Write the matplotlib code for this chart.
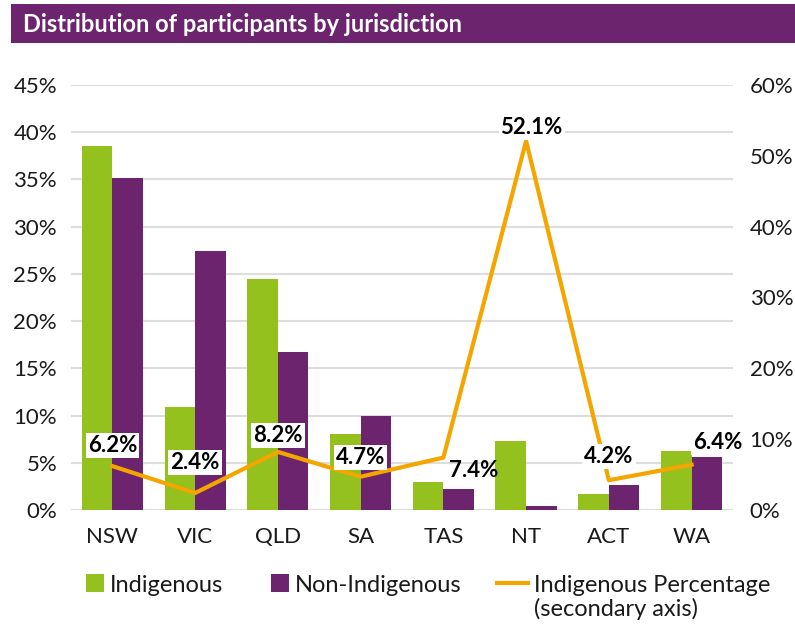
import numpy as np
import matplotlib
matplotlib.use("Agg")
import matplotlib.pyplot as plt
import matplotlib.patches as mpatches
from matplotlib.legend_handler import HandlerPatch

plt.rcParams['font.family'] = ['Lato', 'DejaVu Sans']

# ----------------------------------------------------------------------
# DATA
# ----------------------------------------------------------------------
jurisdictions = ["NSW", "VIC", "QLD", "SA", "TAS", "NT", "ACT", "WA"]
indigenous = [38.5, 10.9, 24.5, 8.0, 3.0, 7.3, 1.7, 6.3]
non_indigenous = [35.2, 27.4, 16.7, 9.9, 2.2, 0.4, 2.6, 5.6]
indigenous_pct = [6.2, 2.4, 8.2, 4.7, 7.4, 52.1, 4.2, 6.4]

# label offsets (points) for the line labels, and whether a white box sits behind
label_offsets = [(0, 15), (0, 22), (0, 12), (0, 14), (22, -9), (4, 10), (0, 17), (19, 16)]
label_boxed = [True, True, True, True, False, True, True, True]

GREEN = "#95C11F"
PURPLE = "#6B246D"
ORANGE = "#F5A500"
GRID = "#DDDDDD"

fig = plt.figure(figsize=(7.95, 6.25), dpi=100)

# title bar
fig.patches.append(mpatches.Rectangle((0.014, 0.931), 0.986, 0.063, transform=fig.transFigure,
                                      facecolor=PURPLE, edgecolor="none"))
fig.text(0.029, 0.961, "Distribution of participants by jurisdiction", color="white",
         fontsize=17, fontweight="bold", va="center", ha="left")

ax = fig.add_axes([0.0893, 0.184, 0.8327, 0.68])
x = np.arange(len(jurisdictions))
w = 0.37
bars_ind = ax.bar(x - w / 2, indigenous, w, color=GREEN)
bars_non = ax.bar(x + w / 2, non_indigenous, w, color=PURPLE)

ax.set_xlim(-0.5, len(jurisdictions) - 0.5)
ax.set_ylim(0, 45)
ax.set_yticks(np.arange(0, 46, 5))
ax.set_yticklabels([f"{v}%" for v in range(0, 46, 5)])
ax.set_xticks(x)
ax.set_xticklabels(jurisdictions)
ax.grid(axis="y", color=GRID, linewidth=1.5)
ax.set_axisbelow(True)
ax.tick_params(length=0, labelsize=16, colors="#1a1a1a")
ax.tick_params(axis="y", pad=10)
ax.tick_params(axis="x", pad=12)
for s in ax.spines.values():
    s.set_visible(False)

ax2 = ax.twinx()
line, = ax2.plot(x, indigenous_pct, color=ORANGE, linewidth=3)
ax2.set_ylim(0, 60)
ax2.set_yticks(np.arange(0, 61, 10))
ax2.set_yticklabels([f"{v}%" for v in range(0, 61, 10)])
ax2.tick_params(length=0, labelsize=16, colors="#1a1a1a", pad=12)
for s in ax2.spines.values():
    s.set_visible(False)

for xi, v, off, boxed in zip(x, indigenous_pct, label_offsets, label_boxed):
    box = dict(facecolor="white", edgecolor="none", pad=1.5) if boxed else None
    ax2.annotate(f"{v}%", (xi, v), xytext=off, textcoords="offset points",
                 ha="center", va="center", fontsize=16, fontweight="bold", color="black",
                 bbox=box)


def square_patch(legend, orig_handle, xdescent, ydescent, width, height, fontsize):
    # square sitting at the right end of the handle box
    s = height
    return mpatches.Rectangle((-xdescent + width - s, -ydescent), s, s)


handles = [bars_ind.patches[0], bars_non.patches[0], line]
labels = ["Indigenous", "Non-Indigenous", "Indigenous Percentage"]
leg = fig.legend(handles, labels, ncol=3, loc="center left", bbox_to_anchor=(0.092, 0.064),
                 frameon=False, fontsize=17, handlelength=1.3, handleheight=0.8,
                 handletextpad=0.25, columnspacing=1.5, borderpad=0, borderaxespad=0,
                 handler_map={mpatches.Rectangle: HandlerPatch(patch_func=square_patch)})
for t in leg.get_texts():
    t.set_color("#1a1a1a")

# second line of the last legend entry
fig.canvas.draw()
bb = leg.get_texts()[2].get_window_extent()
W, H = fig.get_size_inches() * fig.dpi
fig.text(bb.x0 / W, (bb.y0 + bb.y1) / 2 / H - 24 / H, "(secondary axis)", fontsize=17,
         color="#1a1a1a", ha="left", va="center")

fig.savefig("out.png", dpi=100)
